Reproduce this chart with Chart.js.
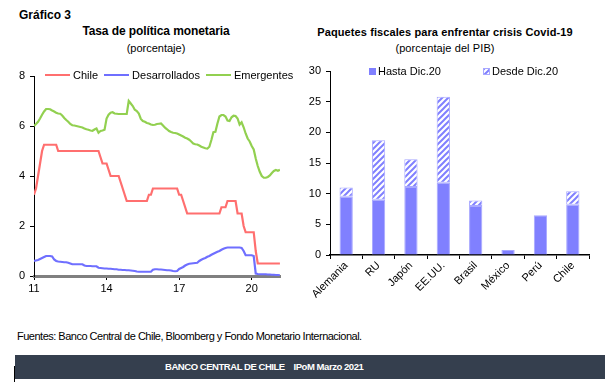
<!DOCTYPE html>
<html>
<head>
<meta charset="utf-8">
<script src="https://cdn.jsdelivr.net/npm/chart.js@4.4.1/dist/chart.umd.min.js"></script>
<style>
  html, body { margin: 0; padding: 0; background: #fff; }
  body { width: 605px; height: 385px; position: relative; overflow: hidden;
         font-family: 'Liberation Sans', Arial, sans-serif; color: #000; }
  .t { position: absolute; white-space: nowrap; line-height: 1; }
  .c { transform: translate(-50%, -50%); }
  .l { transform: translateY(-50%); }
  canvas { position: absolute; }
  .legend { position: absolute; display: flex; align-items: center; font-size: 11px;
            white-space: nowrap; transform: translateY(-50%); }
  .legend span { display: flex; align-items: center; }
  .sw-line { display: inline-block; width: 25px; height: 2.5px; margin-right: 3px; }
  .sw-box { display: inline-block; width: 7px; height: 7px; margin-right: 2px; box-sizing: border-box; }
  #band { position: absolute; left: 15px; top: 355px; width: 590px; height: 24px; background: #353f4e; }
</style>
</head>
<body>
<div class="t l" style="left:19px;top:15px;font-size:12px;font-weight:bold;">Gráfico 3</div>
<div class="t c" style="left:156px;top:31px;font-size:12px;font-weight:bold;letter-spacing:-0.1px;">Tasa de política monetaria</div>
<div class="t c" style="left:156px;top:48px;font-size:11px;">(porcentaje)</div>
<div class="t c" style="left:445px;top:32px;font-size:11px;font-weight:bold;letter-spacing:0.1px;">Paquetes fiscales para enfrentar crisis Covid-19</div>
<div class="t c" style="left:445px;top:48px;font-size:11px;letter-spacing:0.1px;">(porcentaje del PIB)</div>

<canvas id="tpm" width="300" height="300" style="left:0;top:0"></canvas>
<canvas id="fiscal" width="305" height="320" style="left:300px;top:0"></canvas>
<div id="tpmLegend" class="legend" style="left:45px;top:75px;"></div>
<div id="fiscalLegend" class="legend" style="left:369px;top:71px;"></div>

<div class="t l" style="left:17px;top:336px;font-size:11px;letter-spacing:-0.5px;">Fuentes: Banco Central de Chile, Bloomberg y Fondo Monetario Internacional.</div>
<div id="band"></div>
<div class="t l" style="left:165px;top:367px;font-size:9.5px;font-weight:bold;color:#fff;letter-spacing:-0.45px;">BANCO CENTRAL DE CHILE &nbsp;&nbsp; IPoM Marzo 2021</div>
<div style="position:absolute;left:14px;top:366px;width:1px;height:16px;background:#000;"></div>

<script>
// Tasa de politica monetaria, monthly, Jan 2011 - Mar 2021 (percent)
const startYear = 11;
const xTicks = [11, 14, 17, 20];

const chile = [
  3.25, 3.5, 4.0, 4.5, 5.0, 5.25, 5.25, 5.25, 5.25, 5.25, 5.25, 5.25,
  5.0, 5.0, 5.0, 5.0, 5.0, 5.0, 5.0, 5.0, 5.0, 5.0, 5.0, 5.0,
  5.0, 5.0, 5.0, 5.0, 5.0, 5.0, 5.0, 5.0, 5.0, 4.75, 4.5, 4.5,
  4.5, 4.25, 4.0, 4.0, 4.0, 4.0, 4.0, 3.75, 3.5, 3.25, 3.0, 3.0,
  3.0, 3.0, 3.0, 3.0, 3.0, 3.0, 3.0, 3.0, 3.0, 3.25, 3.25, 3.5,
  3.5, 3.5, 3.5, 3.5, 3.5, 3.5, 3.5, 3.5, 3.5, 3.5, 3.5, 3.5,
  3.25, 3.25, 3.0, 2.75, 2.5, 2.5, 2.5, 2.5, 2.5, 2.5, 2.5, 2.5,
  2.5, 2.5, 2.5, 2.5, 2.5, 2.5, 2.5, 2.5, 2.5, 2.75, 2.75, 2.75,
  3.0, 3.0, 3.0, 3.0, 3.0, 2.5, 2.5, 2.5, 2.0, 1.75, 1.75, 1.75,
  1.75, 1.75, 1.0, 0.5, 0.5, 0.5, 0.5, 0.5, 0.5, 0.5, 0.5, 0.5,
  0.5, 0.5, 0.5
];

const desarrollados = [
  0.6, 0.62, 0.64, 0.68, 0.72, 0.76, 0.8, 0.8, 0.8, 0.78, 0.66, 0.6,
  0.58, 0.57, 0.56, 0.55, 0.55, 0.53, 0.5, 0.47, 0.47, 0.47, 0.47, 0.47,
  0.47, 0.42, 0.4, 0.4, 0.4, 0.39, 0.39, 0.39, 0.33, 0.32, 0.31, 0.3,
  0.3, 0.29, 0.29, 0.28, 0.27, 0.27, 0.25, 0.25, 0.24, 0.24, 0.23, 0.23,
  0.22, 0.21, 0.2, 0.18, 0.17, 0.17, 0.17, 0.17, 0.17, 0.17, 0.17, 0.25,
  0.27, 0.27, 0.26, 0.26, 0.25, 0.24, 0.23, 0.23, 0.22, 0.2, 0.19, 0.2,
  0.28, 0.32, 0.36, 0.42, 0.46, 0.49, 0.5, 0.51, 0.52, 0.53, 0.6, 0.65,
  0.69, 0.72, 0.77, 0.8, 0.85, 0.89, 0.93, 0.97, 1.0, 1.05, 1.09, 1.12,
  1.14, 1.14, 1.14, 1.14, 1.14, 1.14, 1.14, 1.12, 1.0, 0.83, 0.83, 0.83,
  0.83, 0.8, 0.1, 0.08, 0.07, 0.07, 0.07, 0.07, 0.06, 0.06, 0.05, 0.05,
  0.04, 0.04, 0.03
];

const emergentes = [
  6.0, 6.08, 6.17, 6.3, 6.45, 6.58, 6.68, 6.68, 6.67, 6.62, 6.58, 6.53,
  6.5, 6.49, 6.42, 6.32, 6.24, 6.17, 6.08, 6.03, 6.02, 6.0, 5.98, 5.96,
  5.94, 5.9, 5.87, 5.85, 5.82, 5.81, 5.86, 5.9, 5.73, 5.8, 5.82, 5.85,
  6.3, 6.45, 6.53, 6.55, 6.5, 6.49, 6.48, 6.48, 6.48, 6.48, 6.48, 7.0,
  6.9, 6.8, 6.65, 6.6, 6.5, 6.28, 6.2, 6.17, 6.12, 6.1, 6.06, 6.04,
  6.05, 6.08, 6.09, 6.1, 6.02, 5.93, 5.87, 5.8, 5.76, 5.73, 5.72, 5.7,
  5.66, 5.62, 5.58, 5.53, 5.5, 5.45, 5.38, 5.3, 5.27, 5.26, 5.22, 5.17,
  5.14, 5.11, 5.1, 5.17, 5.44, 5.75, 5.77, 6.1, 6.38, 6.44, 6.44, 6.38,
  6.22, 6.2, 6.35, 6.41, 6.4, 6.3, 6.06, 6.15, 5.95, 5.7, 5.5, 5.38,
  5.2, 5.06, 4.7, 4.4, 4.17, 4.0, 3.93, 3.93, 3.96, 4.02, 4.12, 4.2,
  4.24, 4.21, 4.25
];

// Paquetes fiscales (% del PIB)
const paises = ['Alemania', 'RU', 'Japón', 'EE.UU.', 'Brasil', 'México', 'Perú', 'Chile'];
const hastaDic20 = [9.5, 9.0, 11.1, 11.8, 8.0, 0.8, 6.5, 8.2];
const desdeDic20 = [1.5, 9.7, 4.5, 14.0, 0.9, null, null, 2.2];

const font = "'Liberation Sans', Arial, sans-serif";
Chart.defaults.font.family = font;
Chart.defaults.font.size = 11;
Chart.defaults.color = '#000';

// one x value per month, as year (two digits) plus month fraction
const monthX = chile.map((_, i) => startYear + i / 12);

const tpmChart = new Chart(document.getElementById('tpm'), {
  type: 'line',
  data: {
    labels: monthX,
    datasets: [
      { label: 'Chile', data: chile, borderColor: '#ff6f6f', borderWidth: 2.2, pointRadius: 0, tension: 0 },
      { label: 'Desarrollados', data: desarrollados, borderColor: '#6f6fff', borderWidth: 2.2, pointRadius: 0, tension: 0 },
      { label: 'Emergentes', data: emergentes, borderColor: '#92d050', borderWidth: 2.2, pointRadius: 0, tension: 0 }
    ]
  },
  options: {
    responsive: false,
    animation: false,
    layout: { padding: { top: 76, right: 20, bottom: 4, left: 0 } },
    plugins: { legend: { display: false }, tooltip: { enabled: false } },
    scales: {
      x: {
        type: 'linear', min: 11, max: 21.17,
        afterBuildTicks: (axis) => { axis.ticks = xTicks.map(v => ({ value: v })); },
        afterFit: (axis) => { axis.height = 20; },
        border: { color: '#808080', width: 3 },
        grid: { drawOnChartArea: false, color: '#000', tickLength: 4 },
        ticks: { padding: 2, maxRotation: 0 }
      },
      y: {
        min: 0, max: 8,
        afterFit: (axis) => { axis.width = 34; },
        border: { color: '#000', width: 1 },
        grid: { drawOnChartArea: false, color: '#000', tickLength: 4 },
        ticks: { stepSize: 2, padding: 5 }
      }
    }
  }
});

// hatch pattern for the "Desde Dic.20" part
const tile = document.createElement('canvas');
tile.width = 6; tile.height = 6;
const tg = tile.getContext('2d');
tg.fillStyle = '#fff';
tg.fillRect(0, 0, 6, 6);
tg.strokeStyle = '#8080ff';
tg.lineWidth = 2;
tg.beginPath();
tg.moveTo(0, 6); tg.lineTo(6, 0);
tg.moveTo(-1, 1); tg.lineTo(1, -1);
tg.moveTo(5, 7); tg.lineTo(7, 5);
tg.stroke();
const fiscalCanvas = document.getElementById('fiscal');
const hatch = fiscalCanvas.getContext('2d').createPattern(tile, 'repeat');

const fiscalChart = new Chart(fiscalCanvas, {
  type: 'bar',
  data: {
    labels: paises,
    datasets: [
      { label: 'Hasta Dic.20', data: hastaDic20, backgroundColor: '#8080ff', borderColor: '#a8a8ff', borderWidth: 1 },
      { label: 'Desde Dic.20', data: desdeDic20, backgroundColor: hatch, borderColor: '#a8a8ff', borderWidth: 1, borderSkipped: false }
    ]
  },
  options: {
    responsive: false,
    animation: false,
    layout: { padding: { top: 71, right: 16, bottom: 0, left: 0 } },
    datasets: { bar: { categoryPercentage: 1, barPercentage: 0.41 } },
    plugins: { legend: { display: false }, tooltip: { enabled: false } },
    scales: {
      x: {
        stacked: true,
        afterFit: (axis) => { axis.height = 65; },
        border: { color: '#000', width: 1.5 },
        grid: { drawOnChartArea: false, color: '#000', tickLength: 4 },
        ticks: { minRotation: 45, maxRotation: 45, padding: 0 }
      },
      y: {
        stacked: true, min: 0, max: 30,
        afterFit: (axis) => { axis.width = 30; },
        border: { color: '#000', width: 1 },
        grid: { drawOnChartArea: false, color: '#000', tickLength: 4 },
        ticks: { stepSize: 5, padding: 5 }
      }
    }
  }
});

// html legends built from the charts' datasets
const tpmLegend = document.getElementById('tpmLegend');
tpmChart.data.datasets.forEach((ds, i) => {
  const item = document.createElement('span');
  if (i > 0) item.style.marginLeft = '6px';
  const sw = document.createElement('i');
  sw.className = 'sw-line';
  sw.style.background = ds.borderColor;
  item.append(sw, ds.label);
  tpmLegend.append(item);
});

const fiscalLegend = document.getElementById('fiscalLegend');
fiscalChart.data.datasets.forEach((ds, i) => {
  const item = document.createElement('span');
  if (i > 0) item.style.marginLeft = '42px';
  const sw = document.createElement('i');
  sw.className = 'sw-box';
  if (typeof ds.backgroundColor === 'string') {
    sw.style.background = ds.backgroundColor;
  } else {
    sw.style.background = 'url(' + tile.toDataURL() + ')';
    sw.style.border = '1px solid ' + ds.borderColor;
  }
  item.append(sw, ds.label);
  fiscalLegend.append(item);
});
</script>
</body>
</html>
